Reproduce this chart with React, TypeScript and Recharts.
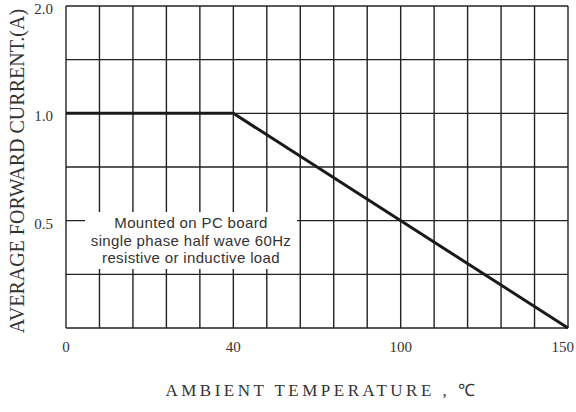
import { LineChart, Line, XAxis, YAxis, CartesianGrid } from 'recharts';

// derating curve: ambient temperature (°C) vs average forward current (A)
const temperatures = [0, 40, 150];
const currents = [1.0, 1.0, 0];

// the printed grid is not linear: labelled values sit on these grid lines
const xTickValues = [0, 40, 100, 150];
const xTickColumns = [0, 5, 10, 15];
const yTickValues = [0, 0.5, 1.0, 2.0];
const yTickRows = [0, 2, 4, 6];
const yTickLabels = ['', '0.5', '1.0', '2.0'];

const xTitle = 'AMBIENT TEMPERATURE , ℃';
const yTitle = 'AVERAGE FORWARD CURRENT.(A)';
const noteLines = ['Mounted on PC board', 'single phase half wave 60Hz', 'resistive or inductive load'];

// piecewise-linear map from a value to its grid position
const toGrid = (v: number, values: number[], pos: number[]) => {
  for (let i = 0; i < values.length - 1; i++) {
    if (v <= values[i + 1]) {
      const t = (v - values[i]) / (values[i + 1] - values[i]);
      return pos[i] + t * (pos[i + 1] - pos[i]);
    }
  }
  return pos[pos.length - 1];
};

const data = temperatures.map((t, i) => ({
  gx: toGrid(t, xTickValues, xTickColumns),
  gy: toGrid(currents[i], yTickValues, yTickRows),
}));

const xGridTicks = Array.from({ length: 16 }, (_, i) => i);
const yGridTicks = Array.from({ length: 7 }, (_, i) => i);

const serif = '"Liberation Serif", "Times New Roman", serif';

const XTick = ({ x, y, payload }: any) => {
  const idx = xTickColumns.indexOf(payload.value);
  if (idx < 0) return null;
  const last = idx === xTickColumns.length - 1;
  return (
    <text
      x={last ? x + 6 : x}
      y={y}
      textAnchor={last ? 'end' : 'middle'}
      dominantBaseline="central"
      fontFamily={serif}
      fontSize={15}
      fill="#333"
    >
      {xTickValues[idx]}
    </text>
  );
};

const YTick = ({ x, y, payload }: any) => {
  const idx = yTickRows.indexOf(payload.value);
  if (idx < 0 || !yTickLabels[idx]) return null;
  return (
    <text x={x} y={y + 3} textAnchor="end" dominantBaseline="central" fontFamily={serif} fontSize={15} fill="#333">
      {yTickLabels[idx]}
    </text>
  );
};

export default function App() {
  return (
    <div style={{ position: 'absolute', left: 0, top: 0, width: 576, height: 412, background: '#fff' }}>
      <LineChart width={576} height={412} data={data} margin={{ top: 6, right: 8, bottom: 0, left: 0 }}>
        <CartesianGrid stroke="#222" strokeWidth={1.4} />
        <XAxis
          dataKey="gx"
          type="number"
          domain={[0, 15]}
          ticks={xGridTicks}
          interval={0}
          height={84}
          axisLine={false}
          tickLine={false}
          tickSize={0}
          tickMargin={19}
          tick={<XTick />}
        />
        <YAxis
          dataKey="gy"
          type="number"
          domain={[0, 6]}
          ticks={yGridTicks}
          interval={0}
          width={66}
          axisLine={false}
          tickLine={false}
          tickSize={0}
          tickMargin={13}
          tick={<YTick />}
        />
        <Line
          type="linear"
          dataKey="gy"
          stroke="#1a1a1a"
          strokeWidth={3}
          dot={false}
          activeDot={false}
          isAnimationActive={false}
        />
        <text
          x={16.5}
          y={171}
          transform="rotate(-90 16.5 171)"
          textAnchor="middle"
          dominantBaseline="central"
          fontFamily={serif}
          fontSize={20}
          fill="#333"
        >
          {yTitle}
        </text>
        <text
          x={322}
          y={390}
          textAnchor="middle"
          dominantBaseline="central"
          fontFamily={serif}
          fontSize={17}
          letterSpacing={3.5}
          fill="#333"
        >
          {xTitle}
        </text>
      </LineChart>
      <div
        style={{
          position: 'absolute',
          left: 85,
          top: 212,
          width: 212,
          height: 57,
          paddingTop: 2,
          boxSizing: 'border-box',
          background: '#fff',
          fontFamily: '"Liberation Sans", Arial, sans-serif',
          fontSize: 15,
          letterSpacing: 0.35,
          lineHeight: '17.5px',
          color: '#333',
          textAlign: 'center',
        }}
      >
        {noteLines.map((l) => (
          <div key={l}>{l}</div>
        ))}
      </div>
    </div>
  );
}
